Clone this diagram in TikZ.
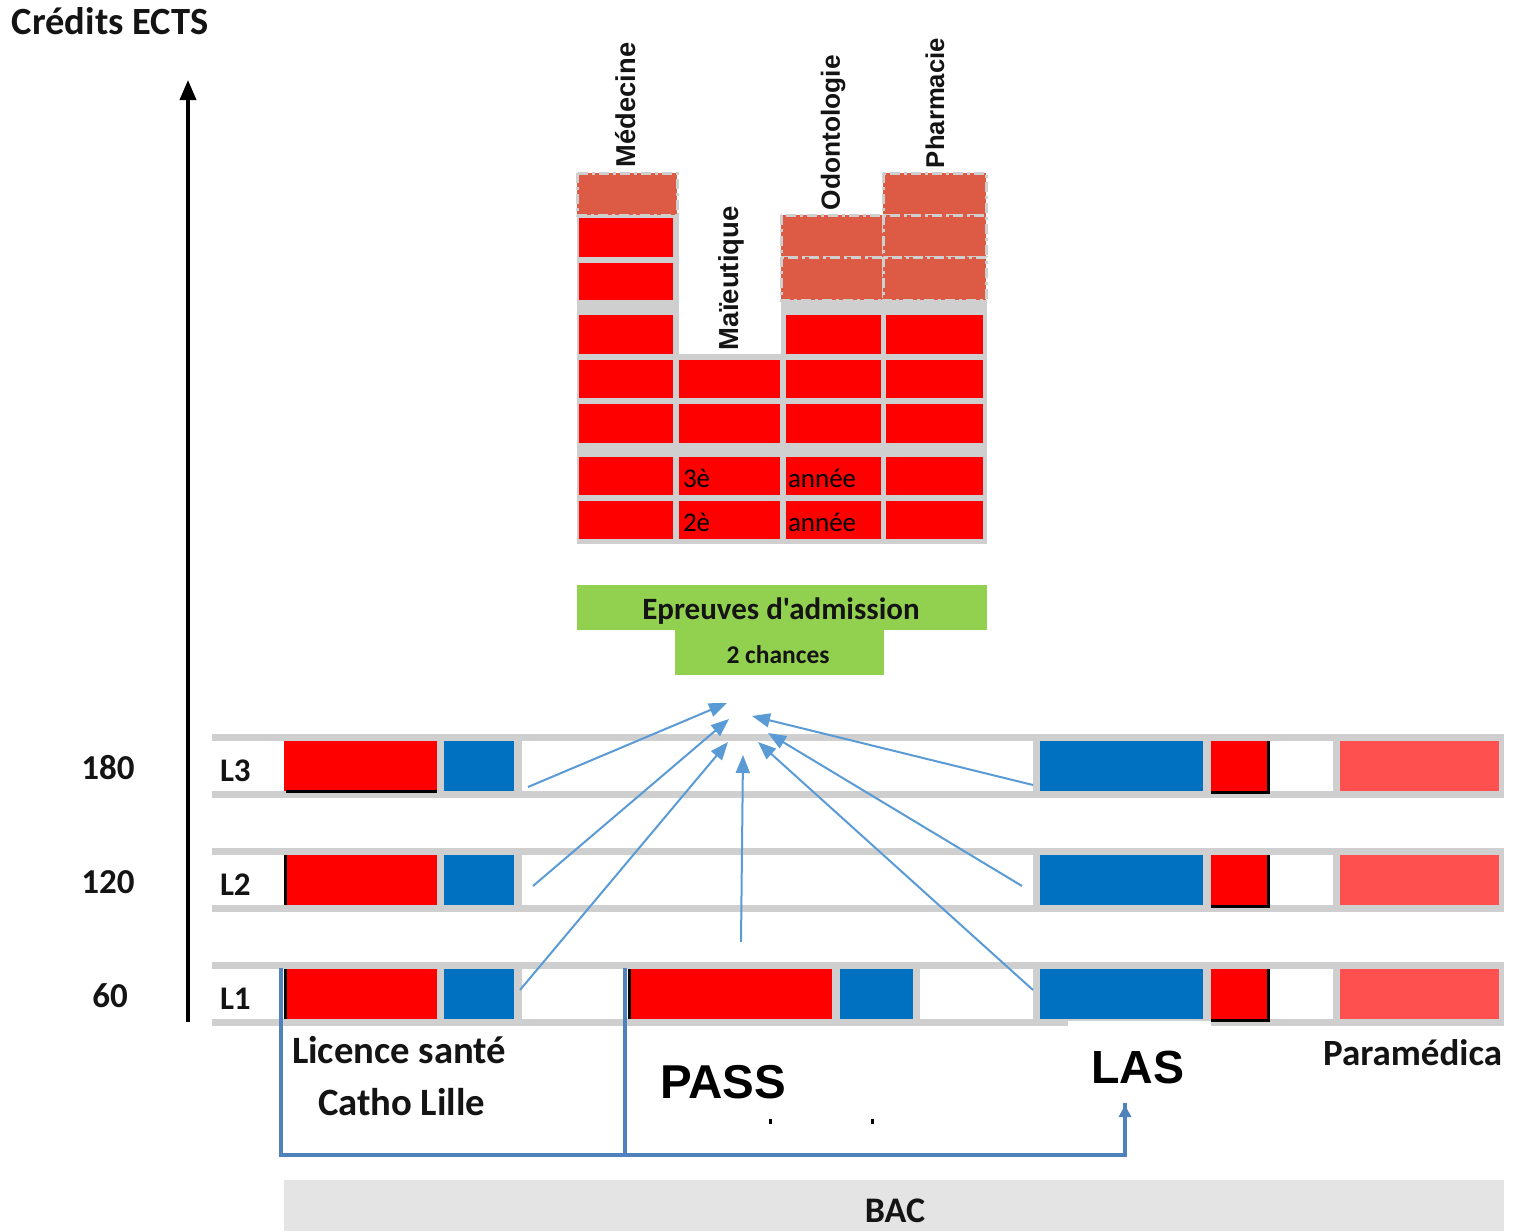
\documentclass[tikz,border=0pt]{standalone}
\usepackage{fontspec}
\setmainfont{Carlito}[Ligatures=TeXOff]
\newfontfamily\arialf{Liberation Sans}
\usetikzlibrary{arrows.meta}
\definecolor{gridgray}{HTML}{CFCFCF}
\definecolor{cellred}{HTML}{FF0000}
\definecolor{cellblue}{HTML}{0070C0}
\definecolor{lightred}{HTML}{FF5050}
\definecolor{salmon}{HTML}{DD5B45}
\definecolor{greenbox}{HTML}{92D050}
\definecolor{arrowblue}{HTML}{5B9BD5}
\definecolor{bracketblue}{HTML}{4F81BD}
\definecolor{bacgray}{HTML}{E4E4E4}
\definecolor{txt}{HTML}{141414}
\begin{document}
\begin{tikzpicture}[x=1pt,y=-1pt,
  txtnode/.style={inner sep=0pt, outer sep=0pt, text=txt},
  vlabel/.style={txtnode, rotate=90, anchor=west, font=\arialf\bfseries\fontsize{25.5}{27}\selectfont},
  feed/.style={draw=arrowblue, line width=2pt, -{Triangle[length=18pt,width=14pt]}},
  bracket/.style={draw=bracketblue, line width=3.5pt},
  salmoncell/.style={fill=salmon, draw=gridgray, line width=3pt, dash pattern=on 10pt off 4pt on 3pt off 4pt},
]
\fill[white] (0,0) rectangle (1514,1231);
\useasboundingbox (0,0) rectangle (1514,1231);

% title and axis
\node[txtnode, anchor=base west, font=\bfseries\fontsize{38.5}{41}\selectfont] (title) at (12,35) {Crédits ECTS};
\coordinate (axisbot) at (188,1022);
\coordinate (axistop) at (188,80);
\draw[line width=3.5pt, -{Triangle[length=20pt,width=16pt]}] (axisbot) -- (axistop);

\node[txtnode, anchor=base, font=\bfseries\fontsize{35}{38}\selectfont] (n180) at (108,779) {180};
\node[txtnode, anchor=base, font=\bfseries\fontsize{35}{38}\selectfont] (n120) at (108,893) {120};
\node[txtnode, anchor=base, font=\bfseries\fontsize{35}{38}\selectfont] (n60) at (110,1007) {60};

% rows
\foreach \t/\n in {741/3, 855/2, 969/1} {
  \fill[gridgray] (212,\t-7) rectangle (1504,\t);
  \fill[gridgray] (212,\t+50) rectangle (1504,\t+57);
  \fill[gridgray] (437,\t) rectangle (1504,\t+50);
  \fill[cellred] (284,\t) rectangle (437,\t+50);
  \fill[cellblue] (444,\t) rectangle (514,\t+50);
  \fill[white] (522,\t) rectangle (1033,\t+50);
  \fill[cellblue] (1040,\t) rectangle (1203,\t+50);
  \fill[cellred] (1211,\t) rectangle (1270,\t+50);
  \fill[white] (1270,\t) rectangle (1333,\t+50);
  \fill[lightred] (1340,\t) rectangle (1499,\t+50);
  \fill[black] (1267,\t) rectangle (1270,\t+53);
  \fill[black] (1211,\t+50) rectangle (1270,\t+53);
  \node[txtnode, anchor=base west, font=\bfseries\fontsize{33}{36}\selectfont] (L\n) at (220,\t+40) {L\n};
}
% PASS cells in L1
\fill[gridgray] (832,969) rectangle (920,1019);
\fill[cellred] (631,969) rectangle (832,1019);
\fill[cellblue] (840,969) rectangle (913,1019);
\fill[black] (628,969) rectangle (631,1019);
% black edges
\fill[black] (286,790) rectangle (437,793);
\fill[black] (284,855) rectangle (287,905);
\fill[black] (284,969) rectangle (287,1019);
% white cover under LAS
\fill[white] (1068,1021) rectangle (1211,1027);

% top block background
\fill[gridgray] (577,213) rectangle (679,544);
\fill[gridgray] (577,354) rectangle (987,544);
\fill[gridgray] (781,300) rectangle (987,354);
% red cells
\foreach \a/\b in {218/257, 263/300, 315/354}
  \fill[cellred] (579,\a) rectangle (673,\b);
\foreach \a/\b in {315/354}{
  \fill[cellred] (786,\a) rectangle (881,\b);
  \fill[cellred] (886,\a) rectangle (983,\b);}
\foreach \a/\b in {360/398, 404/443, 457/495, 501/539}{
  \fill[cellred] (579,\a) rectangle (673,\b);
  \fill[cellred] (679,\a) rectangle (780,\b);
  \fill[cellred] (786,\a) rectangle (881,\b);
  \fill[cellred] (886,\a) rectangle (983,\b);}
% salmon (dashed) cells
\foreach \xa/\ya/\xb/\yb in {577/173/677/215, 781/215/883/257, 781/257/883/300, 883/173/986/215, 883/215/986/257, 883/257/986/300}
  \draw[salmoncell] (\xa,\ya) rectangle (\xb,\yb);

\node[txtnode, text=black, anchor=base west, font=\fontsize{27}{29}\selectfont] (y3a) at (683,487) {3è};
\node[txtnode, text=black, anchor=base west, font=\fontsize{27}{29}\selectfont] (y3b) at (788,487) {année};
\node[txtnode, text=black, anchor=base west, font=\fontsize{27}{29}\selectfont] (y2a) at (683,531) {2è};
\node[txtnode, text=black, anchor=base west, font=\fontsize{27}{29}\selectfont] (y2b) at (788,531) {année};

% vertical labels
\node[vlabel, font=\arialf\bfseries\fontsize{27.3}{29}\selectfont] (med) at (626,167) {Médecine};
\node[vlabel, font=\arialf\bfseries\fontsize{27.5}{29}\selectfont] (mai) at (731,350) {Maïeutique};
\node[vlabel, font=\arialf\bfseries\fontsize{26.3}{28}\selectfont] (odo) at (833,210) {Odontologie};
\node[vlabel, font=\arialf\bfseries\fontsize{25.7}{27}\selectfont] (pha) at (935,168) {Pharmacie};

% green box
\fill[greenbox] (577,585) rectangle (987,630);
\fill[greenbox] (675,630) rectangle (884,675);
\node[txtnode, anchor=base, font=\bfseries\fontsize{31}{33}\selectfont] (epr) at (781,619) {Epreuves d'admission};
\node[txtnode, anchor=base, font=\bfseries\fontsize{25.5}{27}\selectfont] (chances) at (778,663) {2 chances};

% feed arrows
\coordinate (s1) at (528,787); \coordinate (t1) at (727,703);
\coordinate (s2) at (533,886); \coordinate (t2) at (729,719);
\coordinate (s3) at (520,990); \coordinate (t3) at (728,742);
\coordinate (s4) at (741,942); \coordinate (t4) at (743,755);
\coordinate (s5) at (1033,990); \coordinate (t5) at (758,742);
\coordinate (s6) at (1022,886); \coordinate (t6) at (768,733);
\coordinate (s7) at (1033,785); \coordinate (t7) at (752,716);
\foreach \i in {1,...,7} \draw[feed] (s\i) -- (t\i);

% bottom labels
\node[txtnode, anchor=base west, font=\bfseries\fontsize{38.7}{41}\selectfont] (lic) at (292,1063) {Licence santé};
\node[txtnode, anchor=base west, font=\bfseries\fontsize{38.7}{41}\selectfont] (catho) at (318,1115) {Catho Lille};
\node[txtnode, text=black, anchor=base west, font=\arialf\bfseries\fontsize{47.5}{50}\selectfont] (pass) at (660,1098) {PASS};
\node[txtnode, text=black, anchor=base west, font=\arialf\bfseries\fontsize{46.5}{49}\selectfont] (las) at (1091,1083) {LAS};
\begin{scope}
  \clip (1300,1030) rectangle (1504,1090);
  \node[txtnode, anchor=base west, font=\bfseries\fontsize{37}{40}\selectfont] (para) at (1323,1065) {Paramédica};
\end{scope}
\fill[black] (769,1119) rectangle (772,1124);
\fill[black] (871,1119) rectangle (874,1124);

% bracket lines
\coordinate (b1) at (281,968); \coordinate (b2) at (281,1155);
\coordinate (b3) at (625,968); \coordinate (b4) at (625,1155);
\coordinate (b5) at (1125,1155); \coordinate (b6) at (1125,1105);
\draw[bracket] (b1) -- (b2) -- (b4);
\draw[bracket, line join=miter] (b3) -- (b4) -- (b5) -- ([yshift=2pt]b6);
\draw[bracket, -{Triangle[length=12pt,width=12pt]}] (b5) -- (b6);

% BAC band
\fill[bacgray] (284,1180) rectangle (1504,1231);
\node[txtnode, anchor=base, font=\bfseries\fontsize{36}{39}\selectfont] (bac) at (895,1222) {BAC};
\end{tikzpicture}
\end{document}
